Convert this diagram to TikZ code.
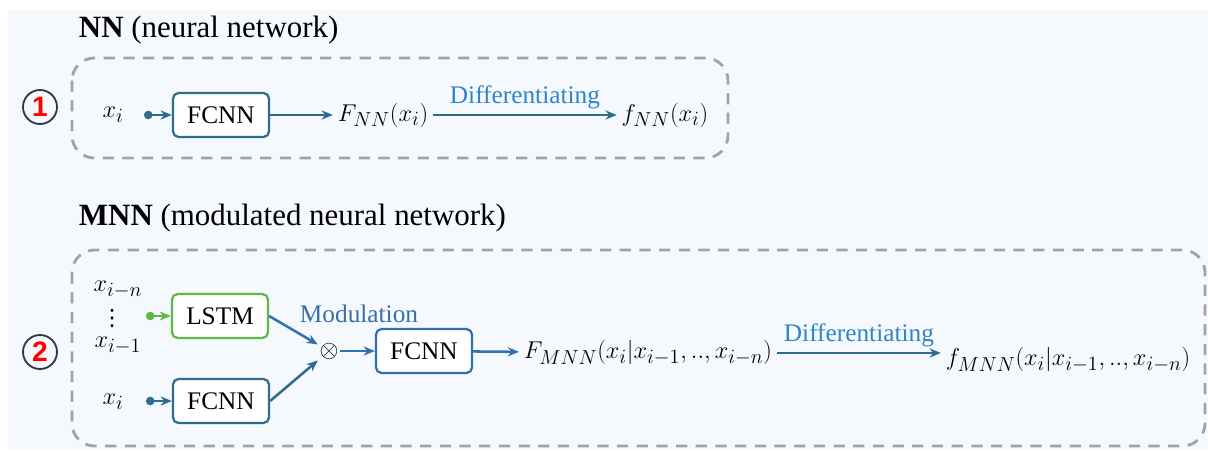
\documentclass[tikz,border=0pt]{standalone}
\usepackage{fontspec}
\setmainfont{Liberation Serif}
\newfontfamily\numfont{Liberation Sans}
\newfontfamily\symfont{DejaVu Sans}
\usetikzlibrary{arrows.meta,shapes}

\definecolor{panel}{HTML}{F5F8FC}
\definecolor{netteal}{HTML}{2D6E8E}
\definecolor{netblue}{HTML}{3370AE}
\definecolor{netgreen}{HTML}{5DB845}
\definecolor{difftext}{HTML}{2E86C8}
\definecolor{modtext}{HTML}{3A6FA8}
\definecolor{dashgray}{HTML}{A3A3A3}
\definecolor{ringgray}{HTML}{2B3A48}

\tikzset{
  netbox/.style={rectangle, draw, fill=white, rounded corners=4pt, line width=1.6pt,
    minimum width=2.4cm, minimum height=1.1cm, font=\fontsize{18}{20}\selectfont},
  groupbox/.style={draw=dashgray, dashed, line width=2pt, dash pattern=on 8pt off 6pt,
    rounded corners=16pt},
  numring/.style={circle, draw=ringgray, line width=1.3pt, minimum size=0.85cm,
    inner sep=0pt, text=red, font=\numfont\bfseries\fontsize{20}{20}\selectfont},
  titletext/.style={anchor=west, font=\fontsize{22}{26}\selectfont},
  mathtext/.style={font=\fontsize{19}{23}\selectfont},
  flow/.style={line width=1.8pt, -{Stealth[length=8pt,width=6.5pt]}},
  inflow/.style={line width=1.8pt, {Circle[length=6pt]}-{Stealth[length=8pt,width=6.5pt]}},
  difflabel/.style={above, text=difftext, font=\fontsize{18}{20}\selectfont}
}

\begin{document}
\begin{tikzpicture}[x=0.025cm, y=-0.025cm]

\useasboundingbox (0,0) rectangle (1208,450);
\fill[panel] (8,10) rectangle (1208,450);

% NN
\node[titletext] (nntitle) at (74,30) {\textbf{NN} (neural network)};
\draw[groupbox] (72,58) rectangle (728,158);
\node[numring] (n1) at (40,107) {1};

\node[mathtext] (x1) at (113,115) {$x_i$};
\coordinate (d1) at (144,115);
\node[netbox, draw=netteal] (fc1) at (221,115) {FCNN};
\draw[inflow, netteal] (d1) -- (fc1);

\node[mathtext] (F1) at (383,115) {$F_{NN}(x_i)$};
\draw[flow, netteal] (fc1) -- (F1);

\node[mathtext] (f1) at (665,115) {$f_{NN}(x_i)$};
\draw[flow, netteal] (F1) -- node[difflabel] (d1lab) {Differentiating} (f1);

% MNN
\node[titletext] (mnntitle) at (74,218) {\textbf{MNN} (modulated neural network)};
\draw[groupbox] (72,250) rectangle (1205,446);
\node[numring] (n2) at (40,352) {2};

\node[mathtext, inner sep=0pt] (xin) at (118,290) {$x_{i-n}$};
\node[inner sep=0pt, font=\symfont\fontsize{16}{16}\selectfont] (xdots) at (112,318) {⋮};
\node[mathtext, inner sep=0pt] (xi1) at (118,346) {$x_{i-1}$};
\coordinate (d2) at (146,316);
\node[netbox, draw=netgreen] (lstm) at (220,316) {LSTM};
\draw[inflow, netgreen] (d2) -- (lstm);

\node[mathtext] (x2) at (113,402) {$x_i$};
\coordinate (d3) at (146,401);
\node[netbox, draw=netteal] (fc2) at (221,401) {FCNN};
\draw[inflow, netteal] (d3) -- (fc2);

\node[mathtext, inner sep=1pt] (mod) at (329,351) {$\otimes$};
\draw[flow, netblue] (lstm.east) -- (mod);
\draw[flow, netteal] (fc2.east) -- (mod);
\node[text=modtext, font=\fontsize{18}{20}\selectfont] (modlab) at (359,314) {Modulation};

\node[netbox, draw=netblue] (fc3) at (424,351) {FCNN};
\draw[flow, netblue] (mod) -- (fc3);

\node[mathtext] (F2) at (648,353) {$F_{MNN}(x_i|x_{i-1},..,x_{i-n})$};
\draw[flow, netblue] (fc3) -- (F2);

\node[mathtext] (f2) at (1068,360) {$f_{MNN}(x_i|x_{i-1},..,x_{i-n})$};
\draw[flow, netteal] (F2.east) -- node[difflabel] (d2lab) {Differentiating} (F2.east -| f2.west);

\end{tikzpicture}
\end{document}
